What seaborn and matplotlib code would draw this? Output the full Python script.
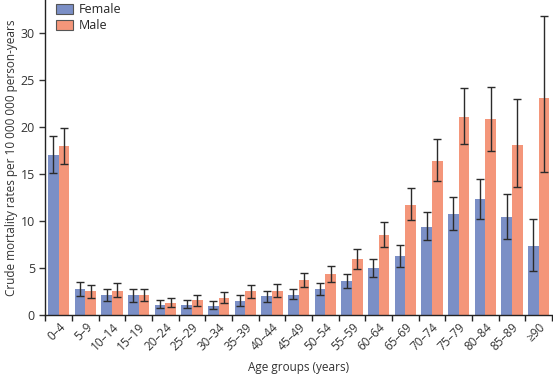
import numpy as np
import pandas as pd
import seaborn as sns
import matplotlib.pyplot as plt
from matplotlib.patches import Patch

age_groups = ["0–4", "5–9", "10–14", "15–19", "20–24", "25–29", "30–34", "35–39",
              "40–44", "45–49", "50–54", "55–59", "60–64", "65–69", "70–74",
              "75–79", "80–84", "85–89", "≥90"]
female = [17.0, 2.75, 2.1, 2.1, 1.1, 1.1, 1.0, 1.5, 2.0, 2.15, 2.75, 3.6, 5.0,
          6.3, 9.4, 10.75, 12.3, 10.4, 7.3]
female_lo = [15.1, 2.0, 1.5, 1.4, 0.7, 0.7, 0.6, 1.0, 1.4, 1.65, 2.1, 2.9, 4.05,
             5.1, 8.0, 9.05, 10.2, 8.1, 4.7]
female_hi = [19.0, 3.5, 2.8, 2.8, 1.6, 1.6, 1.5, 2.1, 2.6, 2.8, 3.45, 4.4, 6.0,
             7.45, 11.0, 12.6, 14.5, 12.9, 10.2]
male = [18.0, 2.5, 2.6, 2.1, 1.3, 1.6, 1.8, 2.5, 2.6, 3.75, 4.35, 5.95, 8.55,
        11.7, 16.4, 21.1, 20.8, 18.1, 23.1]
male_lo = [16.1, 1.8, 1.9, 1.5, 0.8, 1.0, 1.3, 1.8, 1.9, 3.0, 3.5, 4.9, 7.2,
           10.1, 14.2, 18.2, 17.4, 13.6, 15.2]
male_hi = [19.9, 3.2, 3.4, 2.8, 1.8, 2.1, 2.4, 3.2, 3.3, 4.5, 5.2, 7.0, 9.9,
           13.5, 18.7, 24.1, 24.3, 23.0, 31.8]

sexes = ["Female", "Male"]
colors = {"Female": "#7b8fc6", "Male": "#f4967a"}

df = pd.DataFrame({
    "age": age_groups * 2,
    "sex": ["Female"] * len(age_groups) + ["Male"] * len(age_groups),
    "rate": female + male,
    "lo": female_lo + male_lo,
    "hi": female_hi + male_hi,
})

sns.set_style("ticks")
plt.rcParams["font.family"] = ["Open Sans", "DejaVu Sans"]
plt.rcParams["font.size"] = 8

fig = plt.figure(figsize=(5.53, 3.75), dpi=100)
ax = fig.add_axes([0.082, 0.16, 0.916, 0.84])

sns.barplot(data=df, x="age", y="rate", hue="sex", hue_order=sexes,
            order=age_groups, palette=colors, width=0.8, errorbar=None,
            saturation=1, linewidth=0, ax=ax, legend=False)

# error bars at the bar centres
for sex, cont in zip(sexes, ax.containers):
    sub = df[df.sex == sex]
    xs = [p.get_x() + p.get_width() / 2 for p in cont.patches]
    ys = sub["rate"].values
    yerr = [ys - sub["lo"].values, sub["hi"].values - ys]
    ax.errorbar(xs, ys, yerr=yerr, fmt="none", ecolor="#2b2b2b",
                elinewidth=1, capsize=3, capthick=1)

ax.set_xlim(-0.5, len(age_groups) - 0.5)
ax.set_ylim(0, 33.5)
ax.set_yticks(range(0, 31, 5))

# tick marks at group boundaries, labels at the centres
ax.set_xticks(np.arange(len(age_groups)))
ax.set_xticklabels(age_groups, rotation=45, ha="right", rotation_mode="anchor")
ax.tick_params(axis="x", length=0, pad=4, labelsize=8.5, colors="#333333")
ax.set_xticks(np.arange(len(age_groups) + 1) - 0.5, minor=True)
ax.tick_params(axis="x", which="minor", length=4, width=1, color="#222222")
ax.tick_params(axis="y", length=4, width=1, labelsize=9, colors="#333333")

sns.despine(ax=ax)
for s in ["left", "bottom"]:
    ax.spines[s].set_linewidth(1)
    ax.spines[s].set_color("#222222")

ax.set_xlabel("Age groups (years)", fontsize=8.5, color="#333333")
ax.xaxis.set_label_coords(0.5, -0.145)
ax.set_ylabel("Crude mortality rates per 10 000 000 person-years", fontsize=8.5,
              color="#333333", labelpad=2)

handles = [Patch(facecolor=colors[s], edgecolor="#555555", linewidth=0.8, label=s)
           for s in sexes]
ax.legend(handles=handles, loc="upper left", bbox_to_anchor=(0.012, 1.005),
          frameon=False, fontsize=9, handlelength=1.3, handleheight=0.85,
          handletextpad=0.5, labelspacing=0.2, borderaxespad=0)

fig.savefig("out.png", dpi=100)
